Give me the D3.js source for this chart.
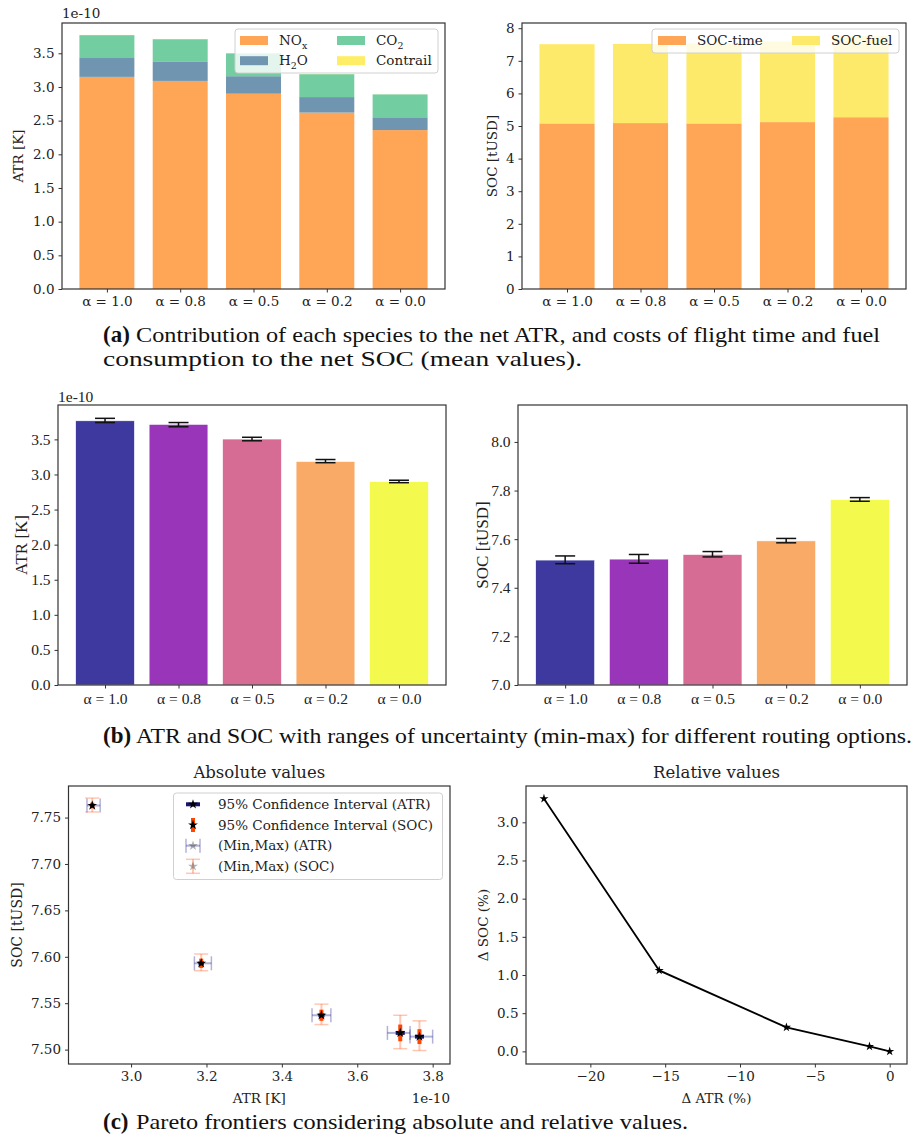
<!DOCTYPE html>
<html>
<head>
<meta charset="utf-8">
<script src="https://cdn.jsdelivr.net/npm/d3@7"></script>
<style>
  body { margin: 0; background: #fff; }
  svg { display: block; }
  .times { font-family: "Liberation Serif", "Tinos", "Times New Roman", "Nimbus Roman", "FreeSerif", serif; }
  .dvs { font-family: "DejaVu Serif", serif; }
</style>
</head>
<body>
<div id="fig"></div>
<script>
// categories
var cats = [0, 1, 2, 3, 4];
var alphaLabels = ["α = 1.0", "α = 0.8", "α = 0.5", "α = 0.2", "α = 0.0"];

// (a) mean contributions (ATR in 1e-10 K, SOC in tUSD)
var atrNOx = [3.15, 3.09, 2.90, 2.62, 2.36];
var atrH2O = [0.28, 0.29, 0.26, 0.23, 0.19];
var atrCO2 = [0.34, 0.33, 0.34, 0.34, 0.34];
var atrContrail = [0.003, 0.003, 0.002, 0.002, 0.001];
var socTime = [5.08, 5.09, 5.08, 5.12, 5.27];
var socFuel = [2.43, 2.43, 2.46, 2.47, 2.49];

// (b) means with min-max range
var atrMean = [3.765, 3.714, 3.505, 3.186, 2.897];
var atrMin = [3.740, 3.680, 3.480, 3.168, 2.883];
var atrMax = [3.800, 3.740, 3.530, 3.213, 2.918];
var socMean = [7.514, 7.518, 7.537, 7.593, 7.763];
var socMin = [7.499, 7.501, 7.527, 7.585, 7.756];
var socMax = [7.531, 7.537, 7.549, 7.603, 7.771];

// (c) 95% confidence half widths, relative changes (%)
var atrCI = [0.012, 0.012, 0.008, 0.007, 0.005];
var socCI = [0.008, 0.009, 0.006, 0.005, 0.003];
var dAtr = [0, -1.35, -6.9, -15.4, -23.1];
var dSoc = [0, 0.065, 0.315, 1.06, 3.31];

var plasma = cats.map(function (i) { return d3.interpolatePlasma(i / 4); });

var svg = d3.select("#fig").append("svg").attr("width", 920).attr("height", 1140);

function scales(box, xd, yd) {
  return {
    x: d3.scaleLinear().domain(xd).range([box.x0, box.x1]),
    y: d3.scaleLinear().domain(yd).range([box.y1, box.y0])
  };
}

function axes(box, s, o) {
  var g = svg.append("g");
  var xa = d3.axisBottom(s.x).tickValues(o.xTicks).tickFormat(o.xFmt).tickSize(3.5).tickPadding(4);
  var ya = d3.axisLeft(s.y).tickValues(o.yTicks).tickFormat(o.yFmt).tickSize(3.5).tickPadding(4);
  var gx = g.append("g").attr("transform", "translate(0," + box.y1 + ")").call(xa);
  var gy = g.append("g").attr("transform", "translate(" + box.x0 + ",0)").call(ya);
  [gx, gy].forEach(function (a) {
    a.attr("font-family", null).attr("font-size", null);
    a.select(".domain").remove();
    a.selectAll(".tick line").attr("stroke", "#333").attr("stroke-width", 1);
    a.selectAll("text").attr("fill", "#222").attr("class", o.font).style("font-size", o.size + "px");
  });
  g.append("rect").attr("x", box.x0).attr("y", box.y0)
    .attr("width", box.x1 - box.x0).attr("height", box.y1 - box.y0)
    .attr("fill", "none").attr("stroke", "#333").attr("stroke-width", 1.2);
  if (o.ylabel) {
    g.append("text").attr("transform", "translate(" + o.ylabelX + "," + (box.y0 + box.y1) / 2 + ") rotate(-90)")
      .attr("text-anchor", "middle").attr("dy", "0.35em").attr("fill", "#222")
      .attr("class", o.font).style("font-size", o.labelSize + "px").text(o.ylabel);
  }
  return g;
}

function txt(x, y, t, size, font, anchor) {
  return svg.append("text").attr("x", x).attr("y", y).attr("fill", "#222")
    .attr("text-anchor", anchor || "start").attr("class", font || "dvs")
    .style("font-size", size + "px").text(t);
}

// label parts: [text, isSub]
function richText(x, y, parts, size) {
  var t = svg.append("text").attr("x", x).attr("y", y).attr("dy", "0.35em").attr("fill", "#222")
    .attr("class", "dvs").style("font-size", size + "px");
  var down = false;
  parts.forEach(function (p) {
    var ts = t.append("tspan").text(p[0]);
    if (p[1]) { ts.attr("dy", 4).style("font-size", (size * 0.7) + "px"); down = true; }
    else if (down) { ts.attr("dy", -4); down = false; }
  });
}

function legendBox(x0, y0, x1, y1) {
  svg.append("rect").attr("x", x0).attr("y", y0).attr("width", x1 - x0).attr("height", y1 - y0)
    .attr("rx", 3).attr("fill", "white").attr("fill-opacity", 0.8)
    .attr("stroke", "#d0d0d0").attr("stroke-width", 1);
}

// ---------- (a) left: stacked ATR ----------
var boxA1 = { x0: 62, x1: 445, y0: 23, y1: 289 };
var sA1 = scales(boxA1, [-0.6125, 4.6125], [0, 3.95]);
var atrKeys = ["NOx", "H2O", "CO2", "Contrail"];
var atrColors = { NOx: "#ffa556", H2O: "#6f95b0", CO2: "#72cda1", Contrail: "#feee66" };
var atrRows = cats.map(function (i) {
  return { NOx: atrNOx[i], H2O: atrH2O[i], CO2: atrCO2[i], Contrail: atrContrail[i] };
});
var atrStack = d3.stack().keys(atrKeys)(atrRows);
var bwA = sA1.x(0.375) - sA1.x(0);
atrStack.forEach(function (layer) {
  svg.append("g").selectAll("rect").data(layer).enter().append("rect")
    .attr("x", function (d, i) { return sA1.x(i) - bwA; })
    .attr("width", 2 * bwA)
    .attr("y", function (d) { return sA1.y(d[1]); })
    .attr("height", function (d) { return sA1.y(d[0]) - sA1.y(d[1]); })
    .attr("fill", atrColors[layer.key]);
});
axes(boxA1, sA1, {
  xTicks: cats, xFmt: function (i) { return alphaLabels[i]; },
  yTicks: d3.range(0, 3.51, 0.5), yFmt: d3.format(".1f"),
  font: "dvs", size: 13.5, ylabel: "ATR [K]", ylabelX: 18, labelSize: 13.5
});
txt(62, 18, "1e-10", 13.5);
legendBox(235, 29, 438, 73);
[["NOx", 240, 40.5, [["NO"], ["x", 1]]], ["H2O", 240, 60.7, [["H"], ["2", 1], ["O"]]],
 ["CO2", 337, 40.5, [["CO"], ["2", 1]]], ["Contrail", 337, 60.7, [["Contrail"]]]].forEach(function (e) {
  svg.append("rect").attr("x", e[1]).attr("y", e[2] - 4.5).attr("width", 28).attr("height", 9).attr("fill", atrColors[e[0]]);
  richText(e[1] + 39, e[2], e[3], 13.5);
});

// ---------- (a) right: stacked SOC ----------
var boxA2 = { x0: 522, x1: 906, y0: 23, y1: 289 };
var sA2 = scales(boxA2, [-0.6125, 4.6125], [0, 8.16]);
var socKeys = ["time", "fuel"];
var socColors = { time: "#ffa556", fuel: "#feea6a" };
var socRows = cats.map(function (i) { return { time: socTime[i], fuel: socFuel[i] }; });
var socStack = d3.stack().keys(socKeys)(socRows);
var bwA2 = sA2.x(0.375) - sA2.x(0);
socStack.forEach(function (layer) {
  svg.append("g").selectAll("rect").data(layer).enter().append("rect")
    .attr("x", function (d, i) { return sA2.x(i) - bwA2; })
    .attr("width", 2 * bwA2)
    .attr("y", function (d) { return sA2.y(d[1]); })
    .attr("height", function (d) { return sA2.y(d[0]) - sA2.y(d[1]); })
    .attr("fill", socColors[layer.key]);
});
axes(boxA2, sA2, {
  xTicks: cats, xFmt: function (i) { return alphaLabels[i]; },
  yTicks: d3.range(0, 8.1, 1), yFmt: d3.format("d"),
  font: "dvs", size: 13.5, ylabel: "SOC [tUSD]", ylabelX: 492, labelSize: 13.5
});
legendBox(652, 29, 899, 53);
[["time", 658, "SOC-time"], ["fuel", 792, "SOC-fuel"]].forEach(function (e) {
  svg.append("rect").attr("x", e[1]).attr("y", 36).attr("width", 28).attr("height", 9).attr("fill", socColors[e[0]]);
  richText(e[1] + 39, 40.5, [[e[2]]], 13.5);
});

// ---------- (b) bars with min-max ----------
function barErr(box, yd, mean, lo, hi, yTicks, yFmt, ylabel, ylabelX, offset) {
  var s = scales(box, [-0.64, 4.64], yd);
  var bw = s.x(0.4) - s.x(0);
  svg.append("g").selectAll("rect").data(mean).enter().append("rect")
    .attr("x", function (d, i) { return s.x(i) - bw; })
    .attr("width", 2 * bw)
    .attr("y", function (d) { return s.y(d); })
    .attr("height", function (d) { return s.y(yd[0]) - s.y(d); })
    .attr("fill", function (d, i) { return plasma[i]; })
    .attr("fill-opacity", 0.8)
    .attr("stroke", "white").attr("stroke-width", 0.6);
  var eg = svg.append("g").attr("stroke", "#111").attr("stroke-width", 1.5);
  cats.forEach(function (i) {
    var cx = s.x(i);
    eg.append("line").attr("x1", cx).attr("x2", cx).attr("y1", s.y(lo[i])).attr("y2", s.y(hi[i]));
    eg.append("line").attr("x1", cx - 10).attr("x2", cx + 10).attr("y1", s.y(lo[i])).attr("y2", s.y(lo[i]));
    eg.append("line").attr("x1", cx - 10).attr("x2", cx + 10).attr("y1", s.y(hi[i])).attr("y2", s.y(hi[i]));
  });
  axes(box, s, {
    xTicks: cats, xFmt: function (i) { return alphaLabels[i]; },
    yTicks: yTicks, yFmt: yFmt, font: "times", size: 15.5,
    ylabel: ylabel, ylabelX: ylabelX, labelSize: 17
  });
  if (offset) txt(box.x0, 402, "1e-10", 15.5, "times");
}
barErr({ x0: 58, x1: 446, y0: 405, y1: 685 }, [0, 3.99], atrMean, atrMin, atrMax,
  d3.range(0, 3.51, 0.5), d3.format(".1f"), "ATR [K]", 21, true);
barErr({ x0: 518, x1: 907, y0: 405, y1: 685 }, [7, 8.152], socMean, socMin, socMax,
  d3.range(7, 8.01, 0.2), d3.format(".1f"), "SOC [tUSD]", 482, false);

// ---------- (c) left: absolute pareto ----------
var boxC1 = { x0: 68.5, x1: 450, y0: 786, y1: 1064 };
var sC1 = scales(boxC1, [2.834, 3.846], [7.4845, 7.784]);
var star = d3.symbol().type(d3.symbolStar);
var cg = svg.append("g");
function errH(g, cx, cy, x0, x1, color, op, w, cap) {
  g.append("line").attr("x1", x0).attr("x2", x1).attr("y1", cy).attr("y2", cy)
    .attr("stroke", color).attr("stroke-opacity", op).attr("stroke-width", w);
  if (cap) [x0, x1].forEach(function (x) {
    g.append("line").attr("x1", x).attr("x2", x).attr("y1", cy - cap).attr("y2", cy + cap)
      .attr("stroke", color).attr("stroke-opacity", op).attr("stroke-width", 1.5);
  });
}
function errV(g, cx, cy, y0, y1, color, op, w, cap) {
  g.append("line").attr("x1", cx).attr("x2", cx).attr("y1", y0).attr("y2", y1)
    .attr("stroke", color).attr("stroke-opacity", op).attr("stroke-width", w);
  if (cap) [y0, y1].forEach(function (y) {
    g.append("line").attr("x1", cx - cap).attr("x2", cx + cap).attr("y1", y).attr("y2", y)
      .attr("stroke", color).attr("stroke-opacity", op).attr("stroke-width", 1.5);
  });
}
cats.forEach(function (i) {
  var cx = sC1.x(atrMean[i]), cy = sC1.y(socMean[i]);
  errH(cg, cx, cy, sC1.x(atrMin[i]), sC1.x(atrMax[i]), "navy", 0.3, 2, 7);
  errV(cg, cx, cy, sC1.y(socMin[i]), sC1.y(socMax[i]), "orangered", 0.3, 2, 7);
});
cats.forEach(function (i) {
  var cx = sC1.x(atrMean[i]), cy = sC1.y(socMean[i]);
  errH(cg, cx, cy, sC1.x(atrMean[i] - atrCI[i]), sC1.x(atrMean[i] + atrCI[i]), "#16166e", 1, 4, 0);
  errV(cg, cx, cy, sC1.y(socMean[i] - socCI[i]), sC1.y(socMean[i] + socCI[i]), "orangered", 1, 4, 0);
  cg.append("path").attr("d", star.size(30)()).attr("transform", "translate(" + cx + "," + cy + ")").attr("fill", "black");
});
axes(boxC1, sC1, {
  xTicks: d3.range(3.0, 3.81, 0.2), xFmt: d3.format(".1f"),
  yTicks: d3.range(7.5, 7.751, 0.05), yFmt: d3.format(".2f"),
  font: "dvs", size: 13.5, ylabel: "SOC [tUSD]", ylabelX: 17, labelSize: 14
});
txt((boxC1.x0 + boxC1.x1) / 2, 1103, "ATR [K]", 13.5, "dvs", "middle");
txt(450, 1103, "1e-10", 13.5, "dvs", "end");
txt((boxC1.x0 + boxC1.x1) / 2, 778, "Absolute values", 16.5, "dvs", "middle");

// legend (c) left
legendBox(173.5, 793, 442.5, 879.5);
var lg = svg.append("g");
var lx = 193, rows = [804.3, 825, 845.7, 866.3];
errH(lg, lx, rows[0], lx - 7, lx + 7, "#16166e", 1, 4, 0);
errV(lg, lx, rows[1], rows[1] - 7, rows[1] + 7, "orangered", 1, 4, 0);
errH(lg, lx, rows[2], lx - 7, lx + 7, "navy", 0.3, 2, 7);
errV(lg, lx, rows[3], rows[3] - 7, rows[3] + 7, "orangered", 0.3, 2, 7);
rows.forEach(function (ry, k) {
  lg.append("path").attr("d", star.size(30)()).attr("transform", "translate(" + lx + "," + ry + ")")
    .attr("fill", "black").attr("fill-opacity", k < 2 ? 1 : 0.3);
});
["95% Confidence Interval (ATR)", "95% Confidence Interval (SOC)", "(Min,Max) (ATR)", "(Min,Max) (SOC)"].forEach(function (t, k) {
  richText(218, rows[k], [[t]], 13.5);
});

// ---------- (c) right: relative pareto ----------
var boxC2 = { x0: 526, x1: 907, y0: 786, y1: 1064 };
var sC2 = scales(boxC2, [-24.3, 1.157], [-0.1655, 3.4755]);
var line = d3.line().x(function (d, i) { return sC2.x(dAtr[i]); }).y(function (d) { return sC2.y(d); });
svg.append("path").datum(dSoc).attr("d", line).attr("fill", "none").attr("stroke", "black").attr("stroke-width", 1.8);
svg.append("g").selectAll("path").data(dSoc).enter().append("path")
  .attr("d", star.size(26)())
  .attr("transform", function (d, i) { return "translate(" + sC2.x(dAtr[i]) + "," + sC2.y(d) + ")"; })
  .attr("fill", "black");
axes(boxC2, sC2, {
  xTicks: [-20, -15, -10, -5, 0], xFmt: d3.format("d"),
  yTicks: d3.range(0, 3.01, 0.5), yFmt: d3.format(".1f"),
  font: "dvs", size: 13.5, ylabel: "Δ SOC (%)", ylabelX: 483, labelSize: 13.5
});
txt((boxC2.x0 + boxC2.x1) / 2, 1103, "Δ ATR (%)", 13.5, "dvs", "middle");
txt((boxC2.x0 + boxC2.x1) / 2, 778, "Relative values", 16.5, "dvs", "middle");

// ---------- captions ----------
function caption(y, label, rest, x1) {
  svg.append("text").attr("x", 103).attr("y", y).attr("fill", "#111").attr("class", "times")
    .style("font-size", "23px").style("font-weight", "bold").text(label);
  svg.append("text").attr("x", 136).attr("y", y).attr("fill", "#111").attr("class", "times")
    .attr("textLength", x1 - 136).attr("lengthAdjust", "spacingAndGlyphs")
    .style("font-size", "22px").text(rest);
}
caption(342, "(a)", "Contribution of each species to the net ATR, and costs of flight time and fuel", 880);
svg.append("text").attr("x", 103).attr("y", 366).attr("fill", "#111").attr("class", "times")
  .attr("textLength", 582 - 103).attr("lengthAdjust", "spacingAndGlyphs")
  .style("font-size", "22px").text("consumption to the net SOC (mean values).");
caption(743, "(b)", "ATR and SOC with ranges of uncertainty (min-max) for different routing options.", 912);
caption(1129, "(c)", "Pareto  frontiers considering absolute and relative values.", 688);
</script>
</body>
</html>
